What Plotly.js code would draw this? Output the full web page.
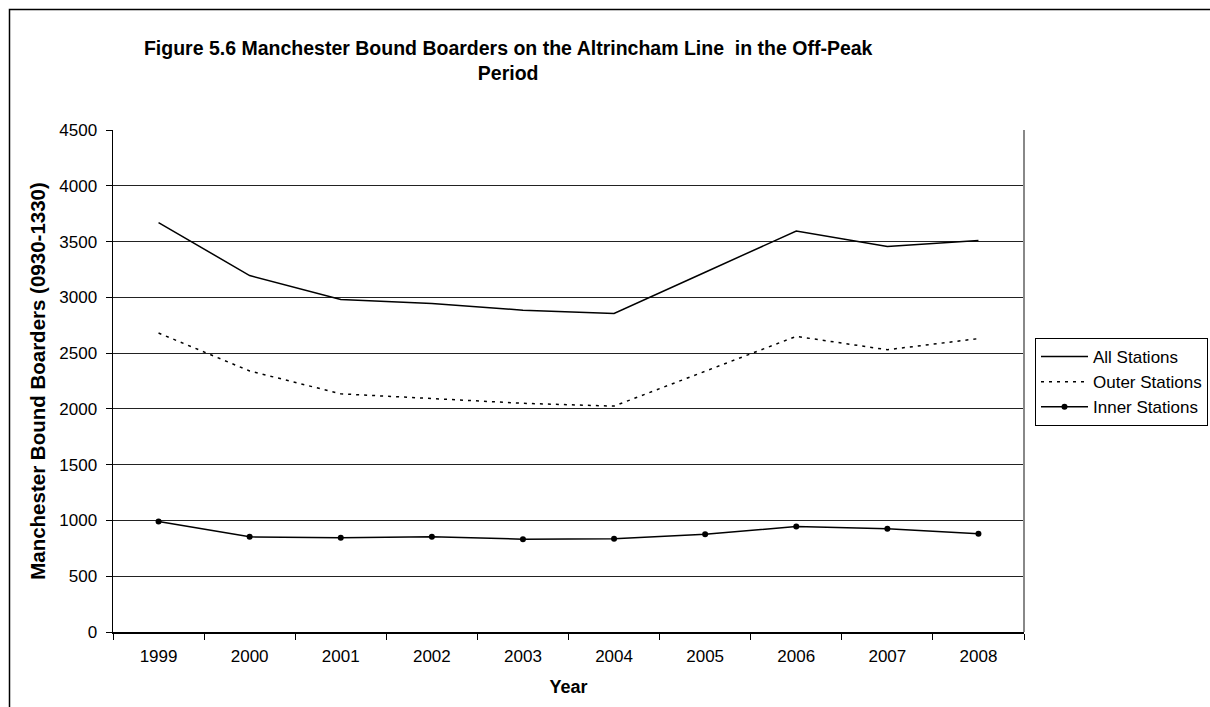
<!DOCTYPE html>
<html>
<head>
<meta charset="utf-8">
<script src="https://cdn.plot.ly/plotly-3.0.1.min.js"></script>
<style>
  html, body { margin: 0; padding: 0; background: #fff; }
  #chart { width: 1210px; height: 707px; }
</style>
</head>
<body>
<div id="chart"></div>
<script>
const years = ['1999', '2000', '2001', '2002', '2003', '2004', '2005', '2006', '2007', '2008'];
const allStations = [3670, 3195, 2980, 2945, 2885, 2855, 3225, 3595, 3455, 3510];
const outerStations = [2680, 2340, 2135, 2090, 2050, 2025, 2335, 2650, 2530, 2630];
const innerStations = [990, 853, 844, 853, 832, 835, 877, 945, 925, 880];
const yTicks = [0, 500, 1000, 1500, 2000, 2500, 3000, 3500, 4000, 4500];

const FONT = 'Liberation Sans, Arial, sans-serif';

const traces = [
  {
    x: years, y: allStations, name: 'All Stations', type: 'scatter', mode: 'lines',
    line: { color: '#000', width: 1.5 }, legendgroup: 'a'
  },
  {
    x: years, y: outerStations, name: 'Outer Stations', type: 'scatter', mode: 'lines',
    line: { color: '#000', width: 1.5, dash: '3px,5px' }, legendgroup: 'b'
  },
  {
    x: years, y: innerStations, name: 'Inner Stations', type: 'scatter', mode: 'lines+markers',
    line: { color: '#000', width: 1.5 }, marker: { color: '#000', size: 6, symbol: 'circle' },
    legendgroup: 'c'
  }
];

const layout = {
  width: 1210, height: 707,
  paper_bgcolor: '#fff', plot_bgcolor: '#fff',
  font: { family: FONT, size: 17, color: '#000' },
  margin: { l: 113, r: 186, t: 130, b: 75, pad: 0 },
  title: {
    text: 'Figure 5.6 Manchester Bound Boarders on the Altrincham Line  in the Off-Peak<br>Period',
    font: { family: FONT, size: 19.5, color: '#000', weight: 'bold' },
    x: 0.42, xref: 'container', xanchor: 'center',
    y: 1 - 55 / 707, yref: 'container', yanchor: 'middle'
  },
  xaxis: {
    type: 'category',
    range: [-0.5, 9.5],
    tickson: 'boundaries',
    ticks: 'outside', ticklen: 6, tickcolor: '#000', tickwidth: 1,
    showline: true, linecolor: '#000', linewidth: 1.5,
    showgrid: false, zeroline: false,
    tickfont: { family: FONT, size: 17, color: '#000' },
    ticklabelstandoff: 8,
    title: { text: 'Year', font: { family: FONT, size: 18, color: '#000', weight: 'bold' }, standoff: 15 }
  },
  yaxis: {
    range: [0, 4500],
    tickvals: yTicks,
    ticktext: yTicks.map(String),
    ticks: 'outside', ticklen: 6, tickcolor: '#000', tickwidth: 1,
    showline: true, linecolor: '#000', linewidth: 1.5,
    showgrid: true, gridcolor: '#222', gridwidth: 1,
    zeroline: false,
    tickfont: { family: FONT, size: 17, color: '#000' },
    ticklabelstandoff: 5,
    title: { text: 'Manchester Bound Boarders (0930-1330)', font: { family: FONT, size: 20.5, color: '#000', weight: 'bold' }, standoff: 8 }
  },
  showlegend: true,
  legend: {
    xref: 'container', yref: 'container',
    x: 1035 / 1210, xanchor: 'left', y: 1 - 338 / 707, yanchor: 'top',
    bgcolor: '#fff', bordercolor: '#000', borderwidth: 1,
    font: { family: FONT, size: 17, color: '#000' },
    itemwidth: 47, tracegroupgap: 2, traceorder: 'normal'
  },
  shapes: [
    { type: 'line', xref: 'paper', yref: 'paper', x0: 1, x1: 1, y0: 0, y1: 1,
      line: { color: '#888', width: 2 } },
    { type: 'rect', xref: 'paper', yref: 'paper',
      x0: (9.5 - 113) / 911, x1: 1.3, y0: -0.2, y1: (632 - 9.5) / 502,
      line: { color: '#000', width: 1.5 }, fillcolor: 'rgba(0,0,0,0)', layer: 'above' }
  ]
};

Plotly.newPlot('chart', traces, layout, { displayModeBar: false, staticPlot: true });
</script>
</body>
</html>
